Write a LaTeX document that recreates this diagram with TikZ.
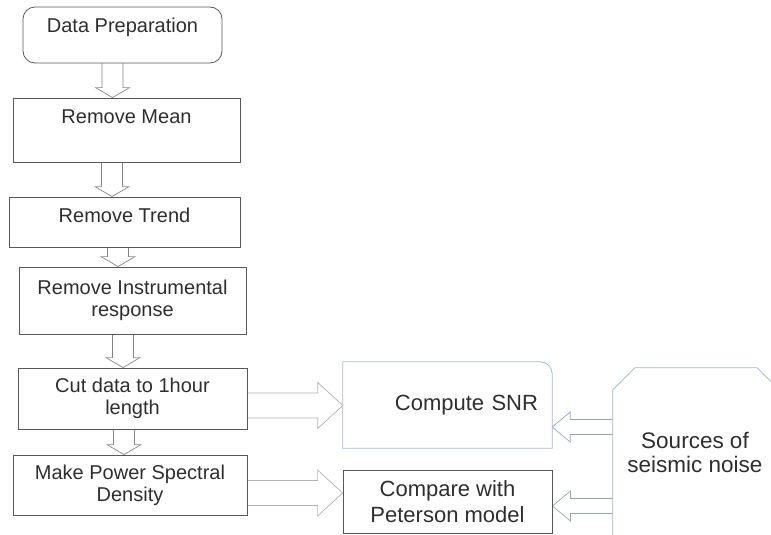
\documentclass[tikz,border=0pt]{standalone}
\usepackage{fontspec}
\setmainfont{Liberation Sans}
\usetikzlibrary{calc,backgrounds}

\definecolor{boxline}{HTML}{585858}
\definecolor{arrowgray}{HTML}{858585}
\definecolor{widegray}{HTML}{B2B2B2}
\definecolor{snrblue}{HTML}{A9B9C9}
\definecolor{srcblue}{HTML}{9FB4C8}
\definecolor{backblue}{HTML}{8FA6BC}
\definecolor{textgray}{HTML}{2E2E2E}

\tikzset{
  stepbox/.style={draw=boxline, line width=0.8pt, text=textgray, font=\fontsize{20}{22}\selectfont, align=center, inner sep=0pt},
  sidebox/.style={text=textgray, font=\fontsize{22}{26}\selectfont, align=center, inner sep=0pt},
  downarrow/.style={draw=arrowgray, line width=0.7pt, fill=white},
  widearrow/.style={draw=widegray, line width=0.7pt, fill=white},
  backarrow/.style={draw=backblue, line width=0.7pt, fill=white},
}

\newcommand{\fatdown}[2]{%
  \draw[downarrow] let \p1=(#1), \p2=(#2) in
    (\x1-10.5pt,\y1) -- (\x1-10.5pt,\y2+10pt) -- (\x1-17pt,\y2+10pt) -- (\x1,\y2)
    -- (\x1+17pt,\y2+10pt) -- (\x1+10.5pt,\y2+10pt) -- (\x1+10.5pt,\y1);}
\newcommand{\fatright}[2]{%
  \draw[widearrow] let \p1=(#1), \p2=(#2) in
    (\x1,\y1+12.5pt) -- (\x2-25pt,\y1+12.5pt) -- (\x2-25pt,\y1+23pt) -- (\x2,\y1)
    -- (\x2-25pt,\y1-23pt) -- (\x2-25pt,\y1-12.5pt) -- (\x1,\y1-12.5pt);}
\newcommand{\fatleft}[2]{%
  \draw[backarrow] let \p1=(#1), \p2=(#2) in
    (\x1,\y1+7.5pt) -- (\x2+18pt,\y1+7.5pt) -- (\x2+18pt,\y1+15pt) -- (\x2,\y1)
    -- (\x2+18pt,\y1-15pt) -- (\x2+18pt,\y1-7.5pt) -- (\x1,\y1-7.5pt);}

\begin{document}
\begin{tikzpicture}[x=1pt,y=-1pt]
\useasboundingbox (0,0) rectangle (771,535);
\clip (0,0) rectangle (771,535);

\node[stepbox, rounded corners=12pt, minimum width=199pt, text height=26pt, text depth=30pt] (dp) at (122.5,35) {Data Preparation};
\node[stepbox, minimum width=227pt, text height=25pt, text depth=39pt] (rm) at (126.5,130) {Remove Mean};
\node[stepbox, minimum width=231pt, text height=25pt, text depth=25pt] (rt) at (124.5,222) {Remove Trend};
\node[stepbox, minimum width=227pt, minimum height=67pt] (ri) at (132.5,300.5) {Remove Instrumental\\response};
\node[stepbox, minimum width=229pt, minimum height=61pt] (cut) at (132.5,398.5) {Cut data to 1hour\\length};
\node[stepbox, minimum width=234pt, minimum height=60pt] (psd) at (130,485) {Make Power Spectral\\Density};

\node[sidebox, minimum width=209pt, minimum height=86pt, text width=181pt, align=right] (snr) at (447.5,405) {Compute SNR};
\draw[snrblue, line width=0.8pt] (snr.south west) -- (snr.north west) -- ([xshift=-12pt]snr.north east)
  arc[start angle=90, end angle=0, radius=12pt] -- (snr.south east) -- cycle;
\node[sidebox, draw=boxline, line width=0.8pt, minimum width=209pt, minimum height=63pt] (cmp) at (447.5,501.5) {Compare with\\Peterson model};
\node[sidebox, font=\fontsize{22.5}{24}\selectfont, minimum width=164pt, minimum height=168pt] (src) at (695,452) {Sources of\\seismic noise};
\draw[srcblue, line width=0.8pt] (src.south west) -- ([yshift=-22pt]src.north west) -- ([xshift=22pt]src.north west)
  -- ([xshift=-20pt]src.north east) -- ([yshift=-20pt]src.north east);

\begin{pgfonlayer}{background}
\fatdown{$(dp.south)+(-10,0)$}{rm.north}
\fatdown{$(rm.south)+(-14.5,0)$}{rt.north}
\fatdown{$(rt.south)+(-6.5,0)$}{ri.north}
\fatdown{$(ri.south)+(-9.5,0)$}{cut.north}
\fatdown{$(cut.south)+(-8.5,0)$}{psd.north}

\fatright{$(cut.east)+(0,7)$}{snr.west}
\fatright{$(psd.east)+(0,8)$}{cmp.west}
\fatleft{$(src.west)+(0,-25)$}{snr.east}
\fatleft{$(src.west)+(0,54)$}{cmp.east}
\end{pgfonlayer}
\end{tikzpicture}
\end{document}
